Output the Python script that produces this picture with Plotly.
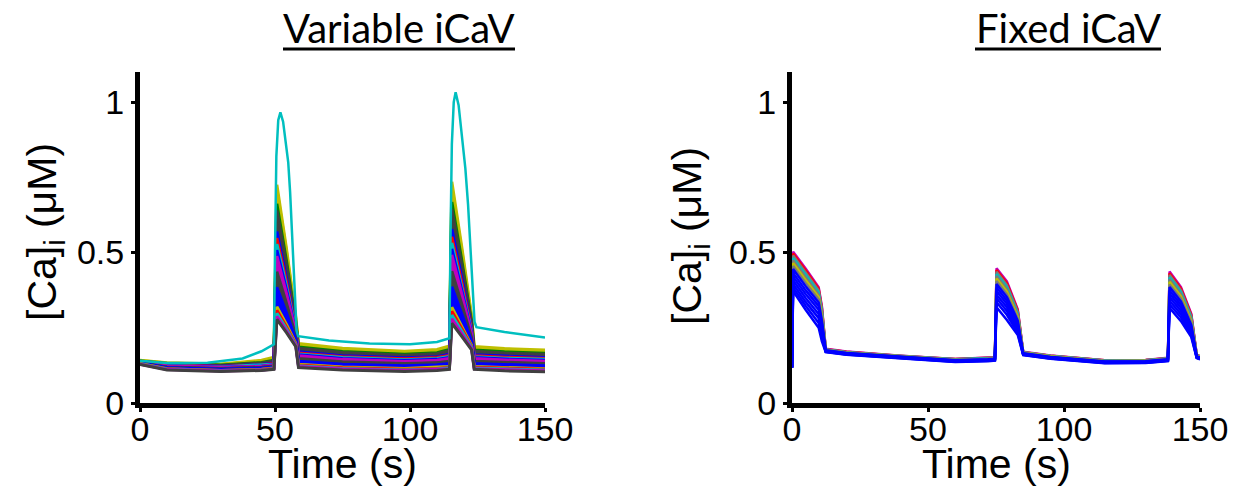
import plotly.graph_objects as go

# ---------------- colours (MATLAB classic colour order) ----------------
C_B = "#0000FF"; C_G = "#008000"; C_R = "#FF0000"; C_C = "#00BFBF"
C_M = "#BF00BF"; C_Y = "#BFBF00"; C_K = "#404040"; C_GR = "#7a7a7a"

# ---------------- LEFT panel: Variable iCaV ----------------
left_times = [0, 10, 30, 45, 49.6, 50.7, 54.3, 57.7, 58.7, 75, 98, 110,
              114.6, 115.5, 119.2, 122.8, 123.8, 135, 150]
left_colors = [C_Y, C_Y, C_Y, C_G, C_K, C_K, C_K, C_B, C_R, C_C, C_B, C_M, C_M,
               C_M, C_K, C_K, C_K, C_B, C_B, C_B, C_B, C_Y, C_R, C_C, C_M, C_K]
left_b0 = [0.142, 0.141, 0.140, 0.140, 0.139, 0.139, 0.138, 0.138, 0.137, 0.137, 0.136, 0.136, 0.135,
           0.135, 0.134, 0.134, 0.133, 0.133, 0.132, 0.132, 0.131, 0.131, 0.130, 0.130, 0.129, 0.128]
left_b10 = [0.134, 0.133, 0.132, 0.131, 0.130, 0.129, 0.128, 0.127, 0.126, 0.125, 0.124, 0.123, 0.122,
            0.121, 0.120, 0.119, 0.118, 0.117, 0.116, 0.116, 0.115, 0.114, 0.113, 0.112, 0.111, 0.110]
left_b30 = [0.130, 0.128, 0.127, 0.126, 0.125, 0.124, 0.123, 0.122, 0.121, 0.120, 0.119, 0.118, 0.117,
            0.116, 0.115, 0.114, 0.113, 0.112, 0.111, 0.110, 0.109, 0.108, 0.108, 0.107, 0.106, 0.105]
left_b45 = [0.142, 0.139, 0.137, 0.135, 0.133, 0.131, 0.129, 0.128, 0.126, 0.125, 0.123, 0.122, 0.121,
            0.120, 0.119, 0.118, 0.117, 0.116, 0.115, 0.114, 0.113, 0.112, 0.111, 0.110, 0.109, 0.108]
left_pre1 = [0.152, 0.148, 0.145, 0.142, 0.140, 0.137, 0.135, 0.133, 0.131, 0.129, 0.127, 0.126, 0.125,
             0.124, 0.123, 0.122, 0.121, 0.120, 0.119, 0.118, 0.117, 0.116, 0.115, 0.114, 0.113, 0.112]
left_peak1 = [0.725, 0.710, 0.690, 0.662, 0.640, 0.620, 0.598, 0.570, 0.548, 0.528, 0.508, 0.488, 0.470,
              0.452, 0.436, 0.418, 0.400, 0.385, 0.368, 0.352, 0.336, 0.320, 0.308, 0.298, 0.288, 0.278]
left_mid1 = [0.510, 0.500, 0.488, 0.470, 0.456, 0.443, 0.430, 0.412, 0.399, 0.387, 0.375, 0.362, 0.351,
             0.340, 0.330, 0.319, 0.308, 0.298, 0.288, 0.279, 0.269, 0.260, 0.252, 0.246, 0.239, 0.233]
left_end1 = [0.285, 0.280, 0.276, 0.270, 0.265, 0.260, 0.255, 0.250, 0.246, 0.242, 0.238, 0.234, 0.230,
             0.226, 0.222, 0.218, 0.214, 0.210, 0.207, 0.204, 0.201, 0.198, 0.195, 0.193, 0.190, 0.187]
left_post1 = [0.198, 0.194, 0.190, 0.186, 0.182, 0.178, 0.174, 0.170, 0.166, 0.163, 0.160, 0.157, 0.154,
              0.151, 0.148, 0.145, 0.142, 0.139, 0.136, 0.133, 0.131, 0.129, 0.126, 0.124, 0.121, 0.118]
left_b75 = [0.182, 0.178, 0.175, 0.171, 0.168, 0.164, 0.161, 0.157, 0.154, 0.151, 0.148, 0.145, 0.142,
            0.140, 0.137, 0.134, 0.132, 0.129, 0.127, 0.124, 0.122, 0.120, 0.117, 0.115, 0.113, 0.110]
left_b98 = [0.172, 0.169, 0.166, 0.162, 0.159, 0.156, 0.153, 0.150, 0.147, 0.144, 0.141, 0.138, 0.136,
            0.133, 0.131, 0.128, 0.126, 0.124, 0.121, 0.119, 0.117, 0.115, 0.112, 0.110, 0.108, 0.105]
left_b110 = [0.178, 0.174, 0.171, 0.167, 0.164, 0.160, 0.157, 0.154, 0.151, 0.148, 0.145, 0.142, 0.139,
             0.137, 0.134, 0.132, 0.129, 0.127, 0.124, 0.122, 0.120, 0.118, 0.115, 0.113, 0.111, 0.108]
left_pre2 = [0.190, 0.186, 0.182, 0.178, 0.174, 0.170, 0.166, 0.162, 0.158, 0.155, 0.151, 0.148, 0.145,
             0.142, 0.139, 0.136, 0.133, 0.131, 0.128, 0.126, 0.124, 0.121, 0.119, 0.117, 0.114, 0.112]
left_peak2 = [0.735, 0.718, 0.698, 0.668, 0.645, 0.624, 0.602, 0.578, 0.552, 0.532, 0.512, 0.492, 0.474,
              0.456, 0.438, 0.420, 0.402, 0.386, 0.368, 0.350, 0.334, 0.318, 0.305, 0.292, 0.280, 0.265]
left_mid2 = [0.518, 0.505, 0.492, 0.473, 0.458, 0.444, 0.430, 0.415, 0.399, 0.386, 0.374, 0.361, 0.350,
             0.339, 0.328, 0.317, 0.306, 0.296, 0.285, 0.274, 0.264, 0.255, 0.247, 0.239, 0.231, 0.221]
left_end2 = [0.290, 0.284, 0.278, 0.272, 0.266, 0.260, 0.254, 0.249, 0.244, 0.239, 0.234, 0.229, 0.225,
             0.221, 0.217, 0.213, 0.209, 0.205, 0.201, 0.197, 0.194, 0.191, 0.188, 0.185, 0.181, 0.177]
left_post2 = [0.188, 0.184, 0.180, 0.176, 0.172, 0.168, 0.164, 0.160, 0.157, 0.154, 0.151, 0.148, 0.145,
              0.142, 0.139, 0.136, 0.133, 0.131, 0.128, 0.126, 0.124, 0.121, 0.119, 0.116, 0.114, 0.112]
left_b135 = [0.181, 0.178, 0.174, 0.170, 0.166, 0.163, 0.159, 0.156, 0.152, 0.149, 0.146, 0.143, 0.140,
             0.138, 0.135, 0.132, 0.130, 0.127, 0.125, 0.122, 0.120, 0.118, 0.115, 0.113, 0.110, 0.107]
left_b150 = [0.176, 0.172, 0.169, 0.165, 0.162, 0.158, 0.155, 0.151, 0.148, 0.145, 0.142, 0.139, 0.136,
             0.134, 0.131, 0.129, 0.126, 0.124, 0.121, 0.119, 0.117, 0.114, 0.112, 0.110, 0.107, 0.104]
left_columns = [left_b0, left_b10, left_b30, left_b45, left_pre1, left_peak1, left_mid1, left_end1,
                left_post1, left_b75, left_b98, left_b110, left_pre2, left_peak2, left_mid2, left_end2,
                left_post2, left_b135, left_b150]

# outlier trace (cyan) of the left panel
cyan_times = [0, 10, 25, 38, 45, 49.6, 50.0, 50.5, 51.2, 52.0, 53.0, 54.0, 54.9, 55.6, 56.2, 56.8,
              57.4, 58.0, 58.6, 70, 85, 100, 110, 114.6, 115.0, 115.5, 116.2, 116.9, 118.0, 119.3,
              120.5, 121.5, 122.4, 123.2, 123.9, 124.6, 135, 150]
cyan_values = [0.140, 0.133, 0.134, 0.148, 0.172, 0.195, 0.500, 0.820, 0.940, 0.966, 0.935, 0.870,
               0.800, 0.700, 0.590, 0.470, 0.340, 0.240, 0.222, 0.208, 0.198, 0.195, 0.203, 0.215,
               0.550, 0.860, 1.000, 1.033, 0.990, 0.890, 0.780, 0.660, 0.520, 0.380, 0.270, 0.252,
               0.236, 0.218]

# ---------------- RIGHT panel: Fixed iCaV ----------------
right_times = [0, 0.4, 5.0, 9.8, 11.0, 12.4, 20, 40, 60, 72, 74.6, 75.2, 79.0, 83.0, 84.0, 85.0,
               95, 115, 130, 138.2, 138.8, 143, 146.8, 147.8, 148.8, 150]
right_colors = [C_M, C_R, C_GR, C_C, C_GR, C_Y, C_GR, C_B, C_B, C_B, C_B, C_B, C_B, C_B]
r_t0 = [0.118] * 14
r_p0 = [0.503, 0.497, 0.490, 0.482, 0.474, 0.465, 0.455, 0.445, 0.432, 0.420, 0.408, 0.396, 0.384, 0.372]
r_m0 = [0.447, 0.441, 0.434, 0.426, 0.418, 0.409, 0.399, 0.388, 0.375, 0.362, 0.349, 0.336, 0.323, 0.310]
r_e0 = [0.385, 0.380, 0.374, 0.367, 0.360, 0.352, 0.344, 0.334, 0.322, 0.310, 0.296, 0.282, 0.266, 0.250]
r_d0 = [0.320, 0.315, 0.310, 0.304, 0.297, 0.290, 0.282, 0.273, 0.262, 0.252, 0.240, 0.228, 0.215, 0.205]
r_b0 = [0.180, 0.179, 0.178, 0.178, 0.177, 0.176, 0.176, 0.175, 0.174, 0.173, 0.172, 0.171, 0.170, 0.169]
r_b20 = [0.171, 0.170, 0.169, 0.169, 0.168, 0.167, 0.167, 0.166, 0.165, 0.164, 0.163, 0.162, 0.161, 0.160]
r_b40 = [0.157, 0.156, 0.156, 0.155, 0.155, 0.154, 0.153, 0.153, 0.152, 0.151, 0.150, 0.149, 0.148, 0.147]
r_b60 = [0.146, 0.146, 0.145, 0.145, 0.144, 0.143, 0.143, 0.142, 0.141, 0.140, 0.139, 0.138, 0.137, 0.136]
r_b72 = [0.149, 0.149, 0.148, 0.148, 0.147, 0.146, 0.146, 0.145, 0.144, 0.143, 0.142, 0.141, 0.140, 0.139]
r_pre1 = [0.152, 0.151, 0.151, 0.150, 0.149, 0.149, 0.148, 0.147, 0.146, 0.145, 0.144, 0.143, 0.142, 0.141]
r_p1 = [0.448, 0.442, 0.436, 0.429, 0.422, 0.414, 0.405, 0.395, 0.384, 0.372, 0.360, 0.348, 0.335, 0.318]
r_m1 = [0.404, 0.398, 0.392, 0.385, 0.378, 0.370, 0.361, 0.352, 0.341, 0.330, 0.318, 0.306, 0.293, 0.276]
r_e1 = [0.311, 0.307, 0.302, 0.297, 0.292, 0.286, 0.280, 0.273, 0.265, 0.257, 0.249, 0.241, 0.233, 0.226]
r_d1 = [0.240, 0.237, 0.234, 0.231, 0.228, 0.225, 0.221, 0.217, 0.212, 0.207, 0.202, 0.197, 0.192, 0.188]
r_b1 = [0.170, 0.169, 0.169, 0.168, 0.167, 0.167, 0.166, 0.165, 0.164, 0.163, 0.162, 0.161, 0.160, 0.159]
r_b95 = [0.158, 0.157, 0.157, 0.156, 0.155, 0.155, 0.154, 0.153, 0.152, 0.151, 0.150, 0.149, 0.148, 0.147]
r_b115 = [0.142, 0.142, 0.141, 0.141, 0.140, 0.139, 0.139, 0.138, 0.137, 0.136, 0.135, 0.134, 0.133, 0.132]
r_b130 = [0.143, 0.143, 0.142, 0.142, 0.141, 0.140, 0.140, 0.139, 0.138, 0.137, 0.136, 0.135, 0.134, 0.133]
r_pre2 = [0.150, 0.149, 0.149, 0.148, 0.147, 0.147, 0.146, 0.145, 0.144, 0.143, 0.142, 0.141, 0.140, 0.139]
r_p2 = [0.437, 0.431, 0.425, 0.418, 0.411, 0.403, 0.394, 0.385, 0.374, 0.363, 0.352, 0.340, 0.328, 0.316]
r_m2 = [0.385, 0.380, 0.374, 0.368, 0.361, 0.354, 0.346, 0.337, 0.327, 0.317, 0.306, 0.295, 0.284, 0.272]
r_e2 = [0.296, 0.292, 0.288, 0.283, 0.278, 0.272, 0.266, 0.259, 0.252, 0.245, 0.238, 0.231, 0.225, 0.219]
r_d2 = [0.225, 0.222, 0.219, 0.216, 0.213, 0.210, 0.207, 0.203, 0.199, 0.195, 0.191, 0.187, 0.183, 0.179]
r_b2 = [0.160, 0.159, 0.159, 0.158, 0.157, 0.157, 0.156, 0.155, 0.154, 0.153, 0.152, 0.151, 0.150, 0.149]
r_end = [0.156, 0.155, 0.155, 0.154, 0.153, 0.153, 0.152, 0.151, 0.150, 0.149, 0.148, 0.147, 0.146, 0.145]
right_columns = [r_t0, r_p0, r_m0, r_e0, r_d0, r_b0, r_b20, r_b40, r_b60, r_b72, r_pre1, r_p1, r_m1,
                 r_e1, r_d1, r_b1, r_b95, r_b115, r_b130, r_pre2, r_p2, r_m2, r_e2, r_d2, r_b2, r_end]

x_ticks = [0, 50, 100, 150]
y_ticks = [0, 0.5, 1]
y_ticktext = ["0", "0.5", "1"]

# ---------------- figure ----------------
fig = go.Figure()

for i, col in enumerate(left_colors):
    fig.add_trace(go.Scatter(x=left_times, y=[c[i] for c in left_columns], mode="lines",
                             line=dict(color=col, width=3), xaxis="x", yaxis="y",
                             showlegend=False, hoverinfo="skip"))
fig.add_trace(go.Scatter(x=cyan_times, y=cyan_values, mode="lines",
                         line=dict(color=C_C, width=2.5), xaxis="x", yaxis="y",
                         showlegend=False, hoverinfo="skip"))

for i, col in enumerate(right_colors):
    fig.add_trace(go.Scatter(x=right_times, y=[c[i] for c in right_columns], mode="lines",
                             line=dict(color=col, width=2.5), xaxis="x2", yaxis="y2",
                             showlegend=False, hoverinfo="skip"))

W, H = 1243, 496
tickfont = dict(family="Liberation Sans, Arial", size=34, color="black")
axis_common = dict(showgrid=False, zeroline=False, showline=True, linecolor="black", linewidth=5,
                   ticks="outside", ticklen=4, tickwidth=3, tickcolor="black", tickfont=tickfont,
                   automargin=False)

fig.update_layout(
    template="none",
    width=W, height=H, margin=dict(l=0, r=0, t=0, b=0, pad=0, autoexpand=False),
    paper_bgcolor="white", plot_bgcolor="white",
    xaxis=dict(domain=[140 / W, 545 / W], range=[0, 150], tickvals=x_ticks, anchor="y",
               ticklabelstandoff=-12, **axis_common),
    yaxis=dict(domain=[1 - 403 / H, 1 - 72 / H], range=[0, 1.1], tickvals=y_ticks, ticktext=y_ticktext,
               anchor="x", **axis_common),
    xaxis2=dict(domain=[792 / W, 1200 / W], range=[0, 150], tickvals=x_ticks, anchor="y2",
                ticklabelstandoff=-12, **axis_common),
    yaxis2=dict(domain=[1 - 403 / H, 1 - 72 / H], range=[0, 1.1], tickvals=y_ticks, ticktext=y_ticktext,
                anchor="x2", **axis_common),
)

title_font = dict(family="Lato, Carlito, Calibri, sans-serif", size=40, color="black")
label_font = dict(family="Liberation Sans, Arial", size=41, color="black")
ann = []
ann.append(dict(text="Variable iCaV", x=399 / W, y=1 - 28 / H, xref="paper", yref="paper",
                showarrow=False, font=title_font, xanchor="center", yanchor="middle"))
ann.append(dict(text="Fixed iCaV", x=1068 / W, y=1 - 28 / H, xref="paper", yref="paper",
                showarrow=False, font=title_font, xanchor="center", yanchor="middle"))
ann.append(dict(text="Time (s)", x=342 / W, y=1 - 464 / H, xref="paper", yref="paper",
                showarrow=False, font=label_font, xanchor="center", yanchor="middle"))
ann.append(dict(text="Time (s)", x=996 / W, y=1 - 464 / H, xref="paper", yref="paper",
                showarrow=False, font=label_font, xanchor="center", yanchor="middle"))
ann.append(dict(text="[Ca]<sub>i</sub> (μM)", x=45 / W, y=1 - 232 / H, xref="paper", yref="paper",
                showarrow=False, font=label_font, textangle=-90, xanchor="center", yanchor="middle"))
ann.append(dict(text="[Ca]<sub>i</sub> (μM)", x=690 / W, y=1 - 236 / H, xref="paper", yref="paper",
                showarrow=False, font=label_font, textangle=-90, xanchor="center", yanchor="middle"))
fig.update_layout(annotations=ann)

fig.add_shape(type="line", xref="paper", yref="paper", x0=283 / W, x1=515 / W,
              y0=1 - 49 / H, y1=1 - 49 / H, line=dict(color="black", width=3))
fig.add_shape(type="line", xref="paper", yref="paper", x0=975 / W, x1=1161 / W,
              y0=1 - 49 / H, y1=1 - 49 / H, line=dict(color="black", width=3))

fig.write_html("out.html", config={"displayModeBar": False},
               post_script="document.body.style.margin='0px';document.body.style.padding='0px';"
                           "document.body.style.overflow='hidden';")
